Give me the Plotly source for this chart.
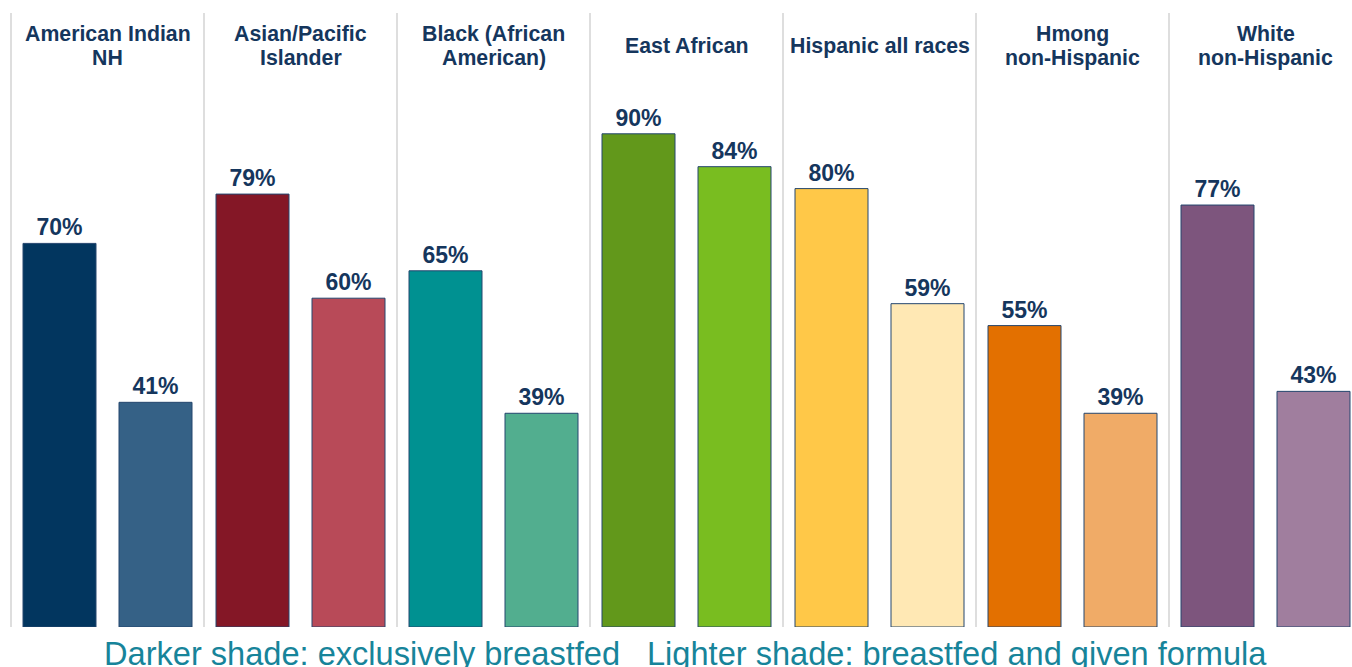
import plotly.graph_objects as go

# Breastfeeding at hospital discharge by race/ethnicity (%)
groups = ["American Indian<br>NH", "Asian/Pacific<br>Islander", "Black (African<br>American)",
          "East African", "Hispanic all races", "Hmong<br>non-Hispanic", "White<br>non-Hispanic"]
exclusive = [70, 79, 65, 90, 80, 55, 77]
with_formula = [41, 60, 39, 84, 59, 39, 43]

dark_colors = ["#02365f", "#841726", "#009191", "#62981b", "#ffc848", "#e37000", "#7d557d"]
light_colors = ["#356186", "#b84a58", "#52ae8f", "#79bd20", "#ffe8b4", "#f0ab67", "#a07e9e"]

W, H = 1352, 667
PLOT_BOTTOM = 627          # pixel row of the zero line
PX_PER_UNIT = 5.48
GROUP_PX = 193
FIRST_EDGE = 11            # pixel x of the first group divider

x_idx = list(range(len(groups)))
bar_w = 73 / GROUP_PX
off_dark = (12 - GROUP_PX / 2) / GROUP_PX
off_light = (108 - GROUP_PX / 2) / GROUP_PX

navy = "#15365d"
val_font = dict(family="Arial, Liberation Sans", size=23, color=navy, weight="bold")

fig = go.Figure()
fig.add_trace(go.Bar(
    x=x_idx, y=exclusive, width=bar_w, offset=off_dark,
    marker=dict(color=dark_colors, line=dict(color="#24466e", width=1)),
    texttemplate="%{y}%", textposition="outside", outsidetextfont=val_font,
    cliponaxis=False, name="Exclusively breastfed",
))
fig.add_trace(go.Bar(
    x=x_idx, y=with_formula, width=bar_w, offset=off_light,
    marker=dict(color=light_colors, line=dict(color="#24466e", width=1)),
    texttemplate="%{y}%", textposition="outside", outsidetextfont=val_font,
    cliponaxis=False, name="Breastfed and given formula",
))

# group dividers
top_val = (PLOT_BOTTOM - 13) / PX_PER_UNIT
for i in range(len(groups)):
    fig.add_shape(type="line", x0=i - 0.5, x1=i - 0.5, y0=0, y1=top_val,
                  xref="x", yref="y", line=dict(color="#d3d3d3", width=1.5), layer="below")


def paper_y(px):
    return (PLOT_BOTTOM - px) / PLOT_BOTTOM


# group headers, one annotation per line for tighter line spacing
hdr_font = dict(family="Arial, Liberation Sans", size=21.3, color=navy, weight="bold")
for i, g in enumerate(groups):
    lines = g.split("<br>")
    rows = [46] if len(lines) == 1 else [34, 58]
    for line, row in zip(lines, rows):
        fig.add_annotation(x=i, y=paper_y(row), xref="x", yref="paper", text=line,
                           showarrow=False, xanchor="center", yanchor="middle",
                           font=hdr_font)

# shade key beneath the bars
key_font = dict(family="Arial, Liberation Sans", size=32.6, color="#17849a")
key_y = paper_y(653)
fig.add_annotation(x=102 / W, y=key_y, xref="paper", yref="paper",
                   text="Darker shade: exclusively breastfed", showarrow=False,
                   xanchor="left", yanchor="middle", font=key_font)
fig.add_annotation(x=645 / W, y=key_y, xref="paper", yref="paper",
                   text="Lighter shade: breastfed and given formula", showarrow=False,
                   xanchor="left", yanchor="middle", font=key_font)

x0 = (0 - FIRST_EDGE) / GROUP_PX - 0.5
x1 = (W - FIRST_EDGE) / GROUP_PX - 0.5
fig.update_layout(
    width=W, height=H,
    margin=dict(l=0, r=0, t=0, b=H - PLOT_BOTTOM),
    paper_bgcolor="white", plot_bgcolor="white",
    showlegend=False, barmode="overlay",
    xaxis=dict(range=[x0, x1], showgrid=False, zeroline=False, showticklabels=False,
               ticks="", fixedrange=True),
    yaxis=dict(range=[0, PLOT_BOTTOM / PX_PER_UNIT], showgrid=False, zeroline=False,
               showticklabels=False, ticks="", fixedrange=True),
)
fig.update_traces(constraintext="none")

fig.write_html("out.html")
